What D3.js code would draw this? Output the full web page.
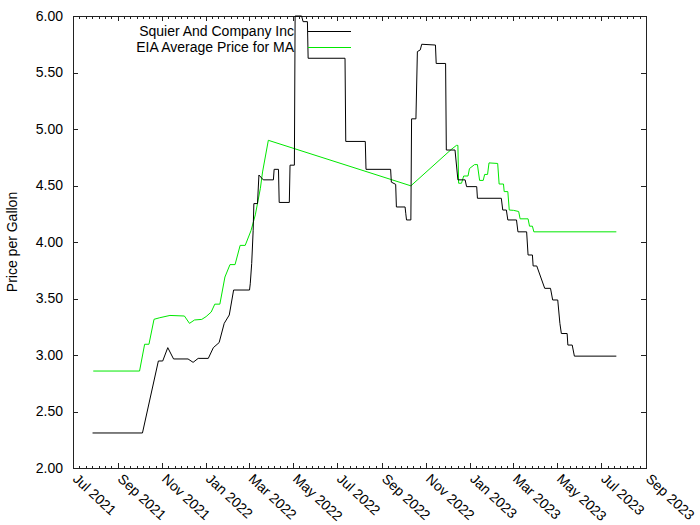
<!DOCTYPE html>
<html><head><meta charset="utf-8">
<script src="https://cdn.jsdelivr.net/npm/d3@7"></script>
<style>body{margin:0;background:#fff}svg text{font-family:"Liberation Sans",Arial,sans-serif}</style>
</head><body><svg id="c" width="700" height="525"></svg>
<script>
const seriesNames = ["Squier And Company Inc", "EIA Average Price for MA"];
const squierDates = ["2021-07-28","2021-10-05","2021-10-27","2021-11-02","2021-11-09","2021-11-17","2021-12-07","2021-12-14","2021-12-21","2022-01-04","2022-01-11","2022-01-19","2022-01-26","2022-02-02","2022-02-08","2022-03-02","2022-03-03","2022-03-05","2022-03-07","2022-03-08","2022-03-13","2022-03-15","2022-03-21","2022-04-04","2022-04-05","2022-04-11","2022-04-12","2022-04-26","2022-04-27","2022-05-03","2022-05-04","2022-05-13","2022-05-15","2022-05-21","2022-05-22","2022-07-12","2022-07-13","2022-08-09","2022-08-10","2022-09-13","2022-09-14","2022-09-20","2022-09-21","2022-10-03","2022-10-04","2022-10-05","2022-10-11","2022-10-12","2022-10-18","2022-10-20","2022-10-24","2022-10-26","2022-11-14","2022-11-15","2022-11-28","2022-11-29","2022-12-11","2022-12-15","2022-12-25","2022-12-27","2023-01-10","2023-01-11","2023-02-13","2023-02-15","2023-02-20","2023-02-22","2023-03-06","2023-03-08","2023-03-20","2023-03-22","2023-03-28","2023-03-29","2023-04-03","2023-04-14","2023-04-22","2023-04-25","2023-05-02","2023-05-05","2023-05-07","2023-05-15","2023-05-16","2023-05-22","2023-05-25","2023-07-22"];
const squierPrices = [2.31,2.31,2.947,2.947,3.065,2.965,2.965,2.935,2.97,2.97,3.065,3.11,3.28,3.354,3.575,3.575,3.63,3.81,4.10,4.34,4.34,4.593,4.55,4.55,4.643,4.643,4.35,4.35,4.68,4.68,6.00,6.00,5.95,5.95,5.626,5.626,4.89,4.89,4.643,4.643,4.53,4.51,4.31,4.31,4.25,4.195,4.195,5.09,5.09,5.685,5.70,5.75,5.743,5.58,5.58,4.814,4.814,4.55,4.55,4.49,4.49,4.387,4.387,4.283,4.283,4.195,4.195,4.09,4.09,3.885,3.885,3.788,3.788,3.59,3.59,3.487,3.487,3.28,3.19,3.19,3.088,3.088,2.99,2.99];
const eiaDates = ["2021-07-29","2021-10-01","2021-10-08","2021-10-14","2021-10-21","2021-10-29","2021-11-12","2021-12-02","2021-12-09","2021-12-16","2021-12-26","2022-01-01","2022-01-08","2022-01-13","2022-01-20","2022-01-27","2022-02-03","2022-02-10","2022-02-17","2022-02-24","2022-03-04","2022-03-10","2022-03-17","2022-03-20","2022-03-28","2022-10-11","2022-12-06","2022-12-13","2022-12-15","2022-12-16","2022-12-20","2022-12-23","2022-12-29","2022-12-31","2023-01-07","2023-01-11","2023-01-14","2023-01-19","2023-01-21","2023-01-25","2023-01-27","2023-02-08","2023-02-10","2023-02-16","2023-02-17","2023-02-22","2023-02-24","2023-03-02","2023-03-09","2023-03-11","2023-03-22","2023-03-24","2023-03-28","2023-03-30","2023-07-22"];
const eiaPrices = [2.858,2.858,3.095,3.095,3.316,3.33,3.35,3.345,3.28,3.31,3.315,3.34,3.38,3.45,3.45,3.69,3.80,3.80,3.97,3.97,4.10,4.24,4.475,4.62,4.90,4.497,4.82,4.855,4.855,4.52,4.52,4.584,4.584,4.65,4.685,4.685,4.545,4.545,4.598,4.598,4.70,4.695,4.513,4.513,4.446,4.446,4.283,4.28,4.27,4.205,4.205,4.14,4.14,4.09,4.09];
const yTicks = [2.00,2.50,3.00,3.50,4.00,4.50,5.00,5.50,6.00];
const xDomain = ["2021-07-01","2023-09-01"];
const yLabel = "Price per Gallon";

const parse = d3.utcParse("%Y-%m-%d");
const svg = d3.select("#c");
const L=73, R=646, T=16, B=468;
const x = d3.scaleUtc().domain(xDomain.map(parse)).range([L,R]);
const y = d3.scaleLinear().domain([2,6]).range([B,T]);

svg.append("defs").append("clipPath").attr("id","clip").append("rect")
  .attr("x",L).attr("y",T-1).attr("width",R-L).attr("height",B-T+2);

const sq = squierDates.map((d,i)=>({d:parse(d),v:squierPrices[i]}));
const ei = eiaDates.map((d,i)=>({d:parse(d),v:eiaPrices[i]}));
const line = d3.line().x(p=>x(p.d)).y(p=>y(p.v));

const g = svg.append("g").attr("stroke","#222").attr("stroke-width",1).attr("shape-rendering","crispEdges");
const majors = d3.utcMonth.every(2).range(parse(xDomain[0]), d3.utcDay.offset(parse(xDomain[1]),1));
majors.forEach((m,i)=>{
  const px = Math.round(x(m))+0.5;
  g.append("line").attr("x1",px).attr("x2",px).attr("y1",B).attr("y2",B-5);
  g.append("line").attr("x1",px).attr("x2",px).attr("y1",T).attr("y2",T+5);
  if(i<majors.length-1){
    const nx = x(majors[i+1]);
    for(let k=1;k<7;k++){
      const mx = Math.round(x(m)+(nx-x(m))*k/7)+0.5;
      g.append("line").attr("x1",mx).attr("x2",mx).attr("y1",B).attr("y2",B-2.5);
      g.append("line").attr("x1",mx).attr("x2",mx).attr("y1",T).attr("y2",T+2.5);
    }
  }
  svg.append("text").attr("transform",`translate(${x(m)-1},${B+12}) rotate(43)`)
    .attr("font-size",14).attr("fill","#000").attr("text-anchor","start")
    .text(d3.utcFormat("%b %Y")(m));
});
yTicks.forEach(t=>{
  const py = Math.round(y(t))+0.5;
  g.append("line").attr("x1",L).attr("x2",L+5).attr("y1",py).attr("y2",py);
  g.append("line").attr("x1",R).attr("x2",R-5).attr("y1",py).attr("y2",py);
  svg.append("text").attr("x",L-10).attr("y",y(t)).attr("dy","0.35em")
    .attr("text-anchor","end").attr("font-size",14).attr("fill","#000").text(t.toFixed(2));
});
g.append("rect").attr("x",L+0.5).attr("y",T+0.5).attr("width",R-L).attr("height",B-T).attr("fill","none");

svg.append("text").attr("transform",`translate(17,${(T+B)/2}) rotate(-90)`)
  .attr("text-anchor","middle").attr("font-size",14).attr("fill","#000").text(yLabel);

const plot = svg.append("g").attr("clip-path","url(#clip)");
plot.append("path").datum(ei).attr("d",line).attr("fill","none").attr("stroke","#00e800").attr("stroke-width",1);
plot.append("path").datum(sq).attr("d",line).attr("fill","none").attr("stroke","#000").attr("stroke-width",1);

const colors = ["#000","#00e800"];
seriesNames.forEach((n,i)=>{
  const ly = 31 + i*16;
  svg.append("text").attr("x",294).attr("y",ly).attr("dy","0.35em").attr("text-anchor","end")
    .attr("font-size",14).attr("fill","#000").text(n);
  svg.append("line").attr("x1",308).attr("x2",351).attr("y1",ly+0.5).attr("y2",ly+0.5)
    .attr("stroke",colors[i]).attr("stroke-width",1);
});
</script></body></html>
